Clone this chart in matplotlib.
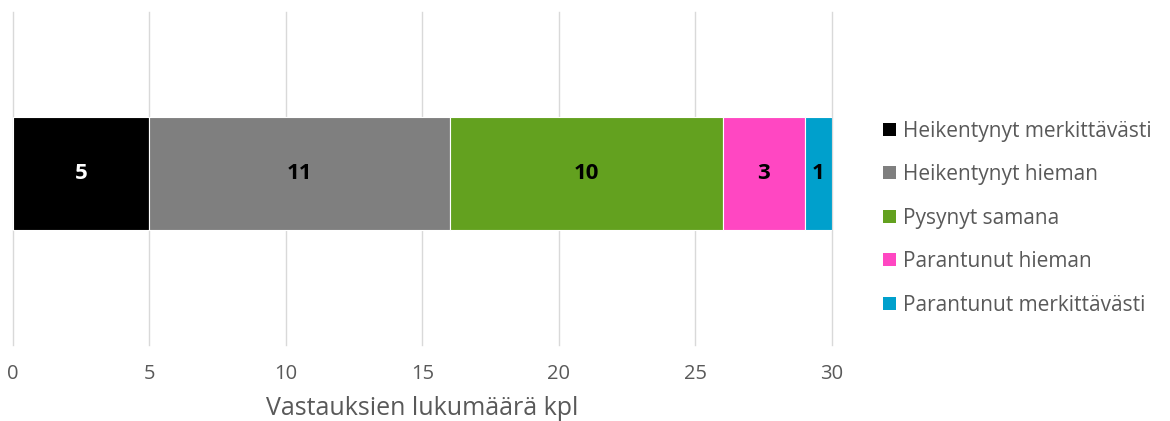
import matplotlib.pyplot as plt
from matplotlib.patches import Patch

plt.rcParams['font.family'] = ['Open Sans', 'DejaVu Sans']

categories = ['Heikentynyt merkittävästi', 'Heikentynyt hieman', 'Pysynyt samana',
              'Parantunut hieman', 'Parantunut merkittävästi']
values = [5, 11, 10, 3, 1]
colors = ['#000000', '#7f7f7f', '#63a11f', '#ff47c2', '#00a0cc']
label_colors = ['white', 'black', 'black', 'black', 'black']
xticks = [0, 5, 10, 15, 20, 25, 30]

fig = plt.figure(figsize=(11.7, 4.21), dpi=100)
ax = fig.add_axes([0.0111, 0.1805, 0.7, 0.791])

left = 0
for cat, v, c, lc in zip(categories, values, colors, label_colors):
    ax.barh(0, v, left=left, height=0.68, color=c, edgecolor='white', linewidth=0.8,
            label=cat, zorder=3)
    ax.text(left + v / 2, 0, str(v), ha='center', va='center', fontsize=16,
            fontweight='bold', color=lc, zorder=4)
    left += v

ax.set_xlim(0, 30)
ax.set_ylim(-1.03, 0.97)
ax.set_xticks(xticks)
ax.set_yticks([])
ax.grid(axis='x', color='#d9d9d9', linewidth=1, zorder=0)
for gl in ax.get_xgridlines():
    gl.set_clip_on(False)
for s in ax.spines.values():
    s.set_visible(False)
ax.tick_params(axis='x', length=0, pad=14, labelsize=14.5, labelcolor='#595959')
ax.set_xlabel('Vastauksien lukumäärä kpl', fontsize=18, color='#595959', labelpad=8)

handles = [Patch(facecolor=c, label=cat) for cat, c in zip(categories, colors)]
leg = fig.legend(handles=handles, loc='center left', bbox_to_anchor=(0.739, 0.482),
                 frameon=False, fontsize=15, handlelength=0.6, handleheight=0.6,
                 handletextpad=0.35, labelspacing=1.08, labelcolor='#595959')

fig.savefig('out.png', dpi=100)
